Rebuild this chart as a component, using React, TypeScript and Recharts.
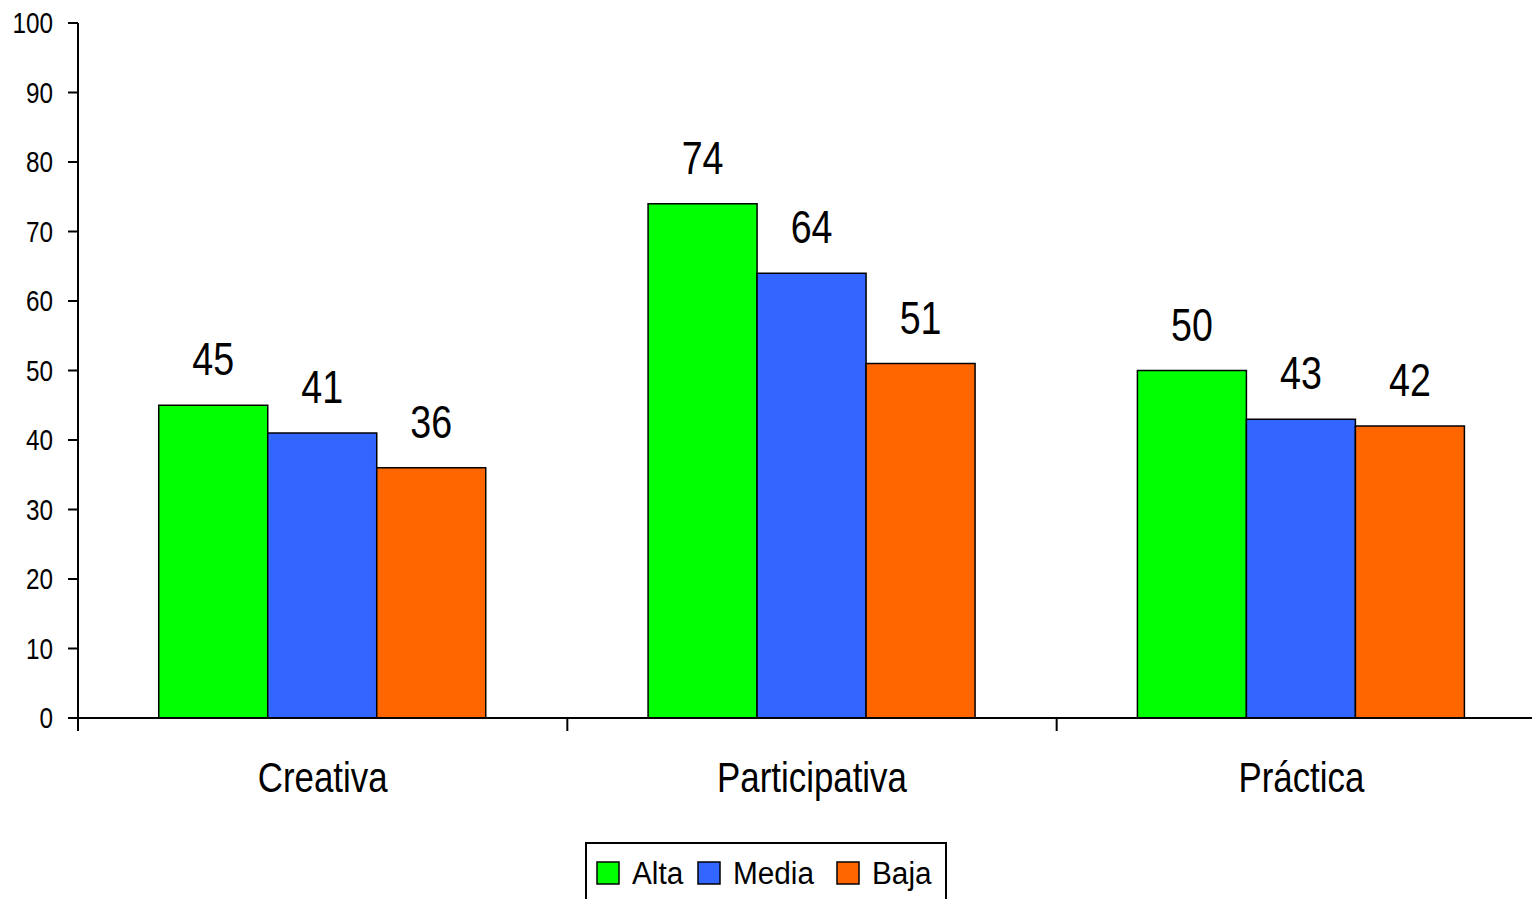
import React from "react";
import { BarChart, Bar, XAxis, YAxis, LabelList } from "recharts";

const categories = ["Creativa", "Participativa", "Práctica"];
const alta = [45, 74, 50];
const media = [41, 64, 43];
const baja = [36, 51, 42];
const yTicks = [0, 10, 20, 30, 40, 50, 60, 70, 80, 90, 100];

const seriesNames = ["Alta", "Media", "Baja"];
const seriesColors = ["#00FF00", "#3366FF", "#FF6600"];

const data = categories.map((c, i) => ({
  name: c,
  Alta: alta[i],
  Media: media[i],
  Baja: baja[i],
}));

// Arial Narrow isn't available, so squeeze Liberation Sans horizontally
const FONT = '"Liberation Sans", Arial, sans-serif';

const CHART_W = 1546;
const CHART_H = 920;
const AXIS_W = 78;
const PLOT_W = CHART_W - AXIS_W;

function NarrowText({ x, y, size, sx = 0.82, anchor = "middle", children }: any) {
  return (
    <text
      transform={`translate(${x},${y}) scale(${sx},1)`}
      textAnchor={anchor}
      fontSize={size}
      fontFamily={FONT}
      fill="#000"
    >
      {children}
    </text>
  );
}

function ValueTick(props: any) {
  const { x, y, payload } = props;
  return (
    <NarrowText x={x} y={y + 10} size={30} sx={0.81} anchor="end">
      {payload.value}
    </NarrowText>
  );
}

// category label plus the Excel-style tick at the left edge of each band
function CategoryTick(props: any) {
  const { x, y, payload } = props;
  const half = PLOT_W / categories.length / 2;
  return (
    <g>
      <line x1={x - half} y1={y - 8} x2={x - half} y2={y + 5} stroke="#000" strokeWidth={2} />
      <NarrowText x={x} y={y + 66} size={42} sx={0.83}>
        {payload.value}
      </NarrowText>
    </g>
  );
}

function BarValue(props: any) {
  const { x, y, width, value } = props;
  return (
    <NarrowText x={x + width / 2} y={y - 30} size={47} sx={0.8}>
      {value}
    </NarrowText>
  );
}

const legendSquareX = [12, 113, 252];
const legendTextX = [47, 148, 287];

function LegendBox() {
  return (
    <div
      style={{
        position: "absolute",
        left: 585,
        top: 842,
        width: 362,
        height: 70,
        boxSizing: "border-box",
        border: "2px solid #000",
        background: "#fff",
      }}
    >
      <svg width={358} height={66} style={{ display: "block" }}>
        {seriesNames.map((n, i) => (
          <g key={n}>
            <rect
              x={legendSquareX[i] - 2}
              y={18}
              width={22}
              height={22}
              fill={seriesColors[i]}
              stroke="#000"
              strokeWidth={1.5}
            />
            <NarrowText x={legendTextX[i] - 2} y={40} size={31} sx={0.96} anchor="start">
              {n}
            </NarrowText>
          </g>
        ))}
      </svg>
    </div>
  );
}

export default function App() {
  return (
    <div
      style={{
        position: "fixed",
        left: 0,
        top: 0,
        width: 1532,
        height: 899,
        overflow: "hidden",
        background: "#fff",
      }}
    >
      <BarChart
        width={CHART_W}
        height={CHART_H}
        data={data}
        margin={{ top: 23, right: 0, bottom: 0, left: 0 }}
        barGap={0}
        barCategoryGap="16.5%"
      >
        <YAxis
          domain={[0, 100]}
          ticks={yTicks}
          width={AXIS_W}
          interval={0}
          axisLine={{ stroke: "#000", strokeWidth: 2 }}
          tickLine={{ stroke: "#000", strokeWidth: 2 }}
          tickSize={10}
          tickMargin={15}
          tick={<ValueTick />}
        />
        <XAxis
          dataKey="name"
          height={202}
          interval={0}
          axisLine={{ stroke: "#000", strokeWidth: 2 }}
          tickLine={false}
          tick={<CategoryTick />}
        />
        {seriesNames.map((n, i) => (
          <Bar
            key={n}
            dataKey={n}
            fill={seriesColors[i]}
            stroke="#000"
            strokeWidth={1.5}
            isAnimationActive={false}
          >
            <LabelList dataKey={n} content={<BarValue />} />
          </Bar>
        ))}
      </BarChart>
      <LegendBox />
    </div>
  );
}
